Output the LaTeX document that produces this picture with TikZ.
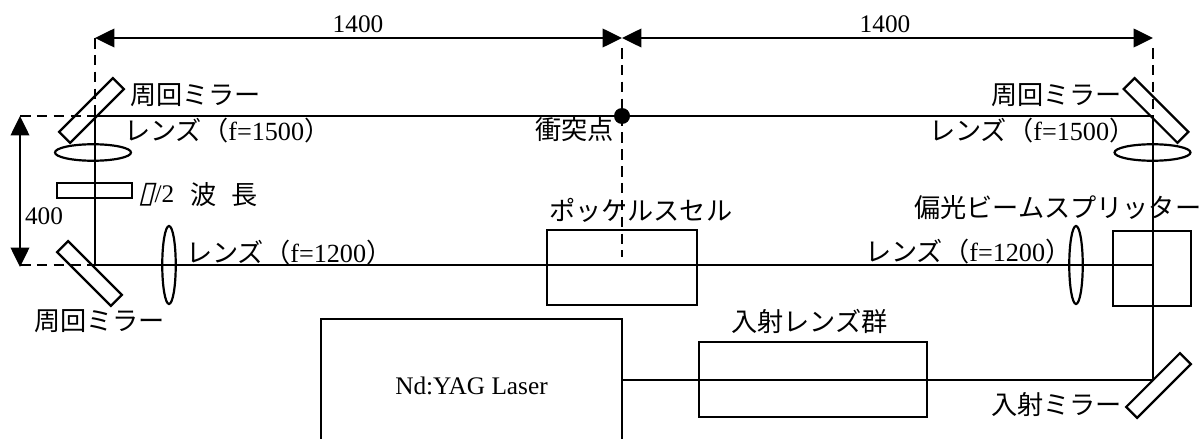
\documentclass[tikz,border=0pt]{standalone}
\usepackage{fontspec}
\setmainfont{Liberation Serif}
\newfontfamily\jpfont{Noto Sans CJK JP}
\newfontfamily\boxfont[FakeSlant=0.25]{DejaVu Sans}
\usetikzlibrary{positioning, arrows.meta, shapes.geometric}

\begin{document}
\begin{tikzpicture}[x=0.02cm,y=-0.02cm,line width=1.25pt,
        mirror/.style={draw,minimum width=1.52cm,minimum height=0.31cm,inner sep=0pt},
        lens/.style={draw,ellipse,inner sep=0pt},
        lensflat/.style={lens,minimum width=1.52cm,minimum height=0.33cm},
        lenstall/.style={lens,minimum width=0.27cm,minimum height=1.56cm},
        optbox/.style={draw,rectangle,inner sep=0pt},
        label/.style={inner sep=0pt,anchor=west,font=\fontsize{14.4}{17}\selectfont},
        jp/.style={label,font=\fontsize{14.9}{17}\selectfont\jpfont},
        dimline/.style={{Triangle[length=11pt,width=10.5pt]}-{Triangle[length=11pt,width=10.5pt]}},
        guide/.style={dashed,dash pattern=on 6pt off 3.6pt}]
    \useasboundingbox (0,0) rectangle (1200,439);
    \coordinate (topL) at (95,116);
    \coordinate (topR) at (1153,116);
    \coordinate (lowL) at (95,265);
    \coordinate (lowR) at (1153,265);
    \coordinate (inR) at (1153,380);
    \coordinate (dimL) at (95,38);
    \coordinate (dimM) at (622,38);
    \coordinate (dimR) at (1153,38);
    \coordinate (dimT) at (20,116);
    \coordinate (dimB) at (20,267);
    \coordinate (guideM) at (622,257);
    \coordinate (guideA) at (622,48);
    \coordinate (guideB) at (1153,48);

    \node[mirror,rotate=45] (mirrorTL) at (91.5,110.5) {};
    \node[mirror,rotate=-45] (mirrorTR) at (1156,110.5) {};
    \node[mirror,rotate=-45] (mirrorBL) at (89.5,273.5) {};
    \node[mirror,rotate=45] (mirrorIn) at (1158.5,385.5) {};
    \node[lensflat] (lensTL) at (93,152.5) {};
    \node[lensflat] (lensTR) at (1152.5,152.5) {};
    \node[lenstall] (lensBL) at (169,265) {};
    \node[lenstall] (lensBR) at (1076,265) {};
    \node[optbox,minimum width=1.5cm,minimum height=0.3cm] (plate) at (94.5,190.5) {};
    \node[optbox,minimum width=3cm,minimum height=1.5cm] (pockels) at (622,267.5) {};
    \node[optbox,minimum width=1.56cm,minimum height=1.5cm] (splitter) at (1152,268.5) {};
    \node[optbox,minimum width=4.56cm,minimum height=1.5cm] (group) at (813,379.5) {};
    \node[optbox,minimum width=6.02cm,minimum height=2.68cm,font=\fontsize{14.4}{17}\selectfont] (laser) at (471.5,386) {Nd:YAG Laser};
    \node[circle,fill=black,inner sep=0pt,minimum size=0.32cm] (impact) at (622,116) {};

    \draw (topL) -- (topR);
    \draw (lowL) -- (lowR);
    \draw (topL) -- (lowL);
    \draw (topR) -- (inR);
    \draw (laser.east |- inR) -- (inR);
    \draw[dimline] (dimL) -- (dimM);
    \draw[dimline] (dimM) -- (dimR);
    \draw[dimline] (dimT) -- (dimB);
    \draw[guide] (dimL) -- (topL);
    \draw[guide] (guideA) -- (guideM);
    \draw[guide] (guideB) -- (topR);
    \draw[guide] (dimT) -- (topL);
    \draw[guide] (dimB |- lowL) -- (lowL);

    \node[label,anchor=center] (dimA) at (358,24) {1400};
    \node[label,anchor=center] (dimC) at (885,24) {1400};
    \node[label] (dimD) at (24,216) {400};
    \node[jp] (textTL) at (129,95) {周回ミラー};
    \node[jp] (lensTextTL) at (123,131) {レンズ（{\rmfamily f=1500}）};
    \node[label] (plateText) at (137,195) {{\boxfont\fontsize{17}{17}\selectfont ▯}/2};
    \node[jp] (plateTextA) at (189,195) {波};
    \node[jp] (plateTextB) at (230,195) {長};
    \node[jp] (lensTextBL) at (185,253) {レンズ（{\rmfamily f=1200}）};
    \node[jp] (textBL) at (33,321) {周回ミラー};
    \node[jp] (impactText) at (534,130) {衝突点};
    \node[jp] (pockelsText) at (548,210) {ポッケルスセル};
    \node[jp] (textTR) at (990,95) {周回ミラー};
    \node[jp] (lensTextTR) at (928,131) {レンズ（{\rmfamily f=1500}）};
    \node[jp] (splitterText) at (913,208) {偏光ビームスプリッター};
    \node[jp] (lensTextBR) at (864,252) {レンズ（{\rmfamily f=1200}）};
    \node[jp] (groupText) at (730,321) {入射レンズ群};
    \node[jp] (textIn) at (990,405) {入射ミラー};
\end{tikzpicture}
\end{document}
